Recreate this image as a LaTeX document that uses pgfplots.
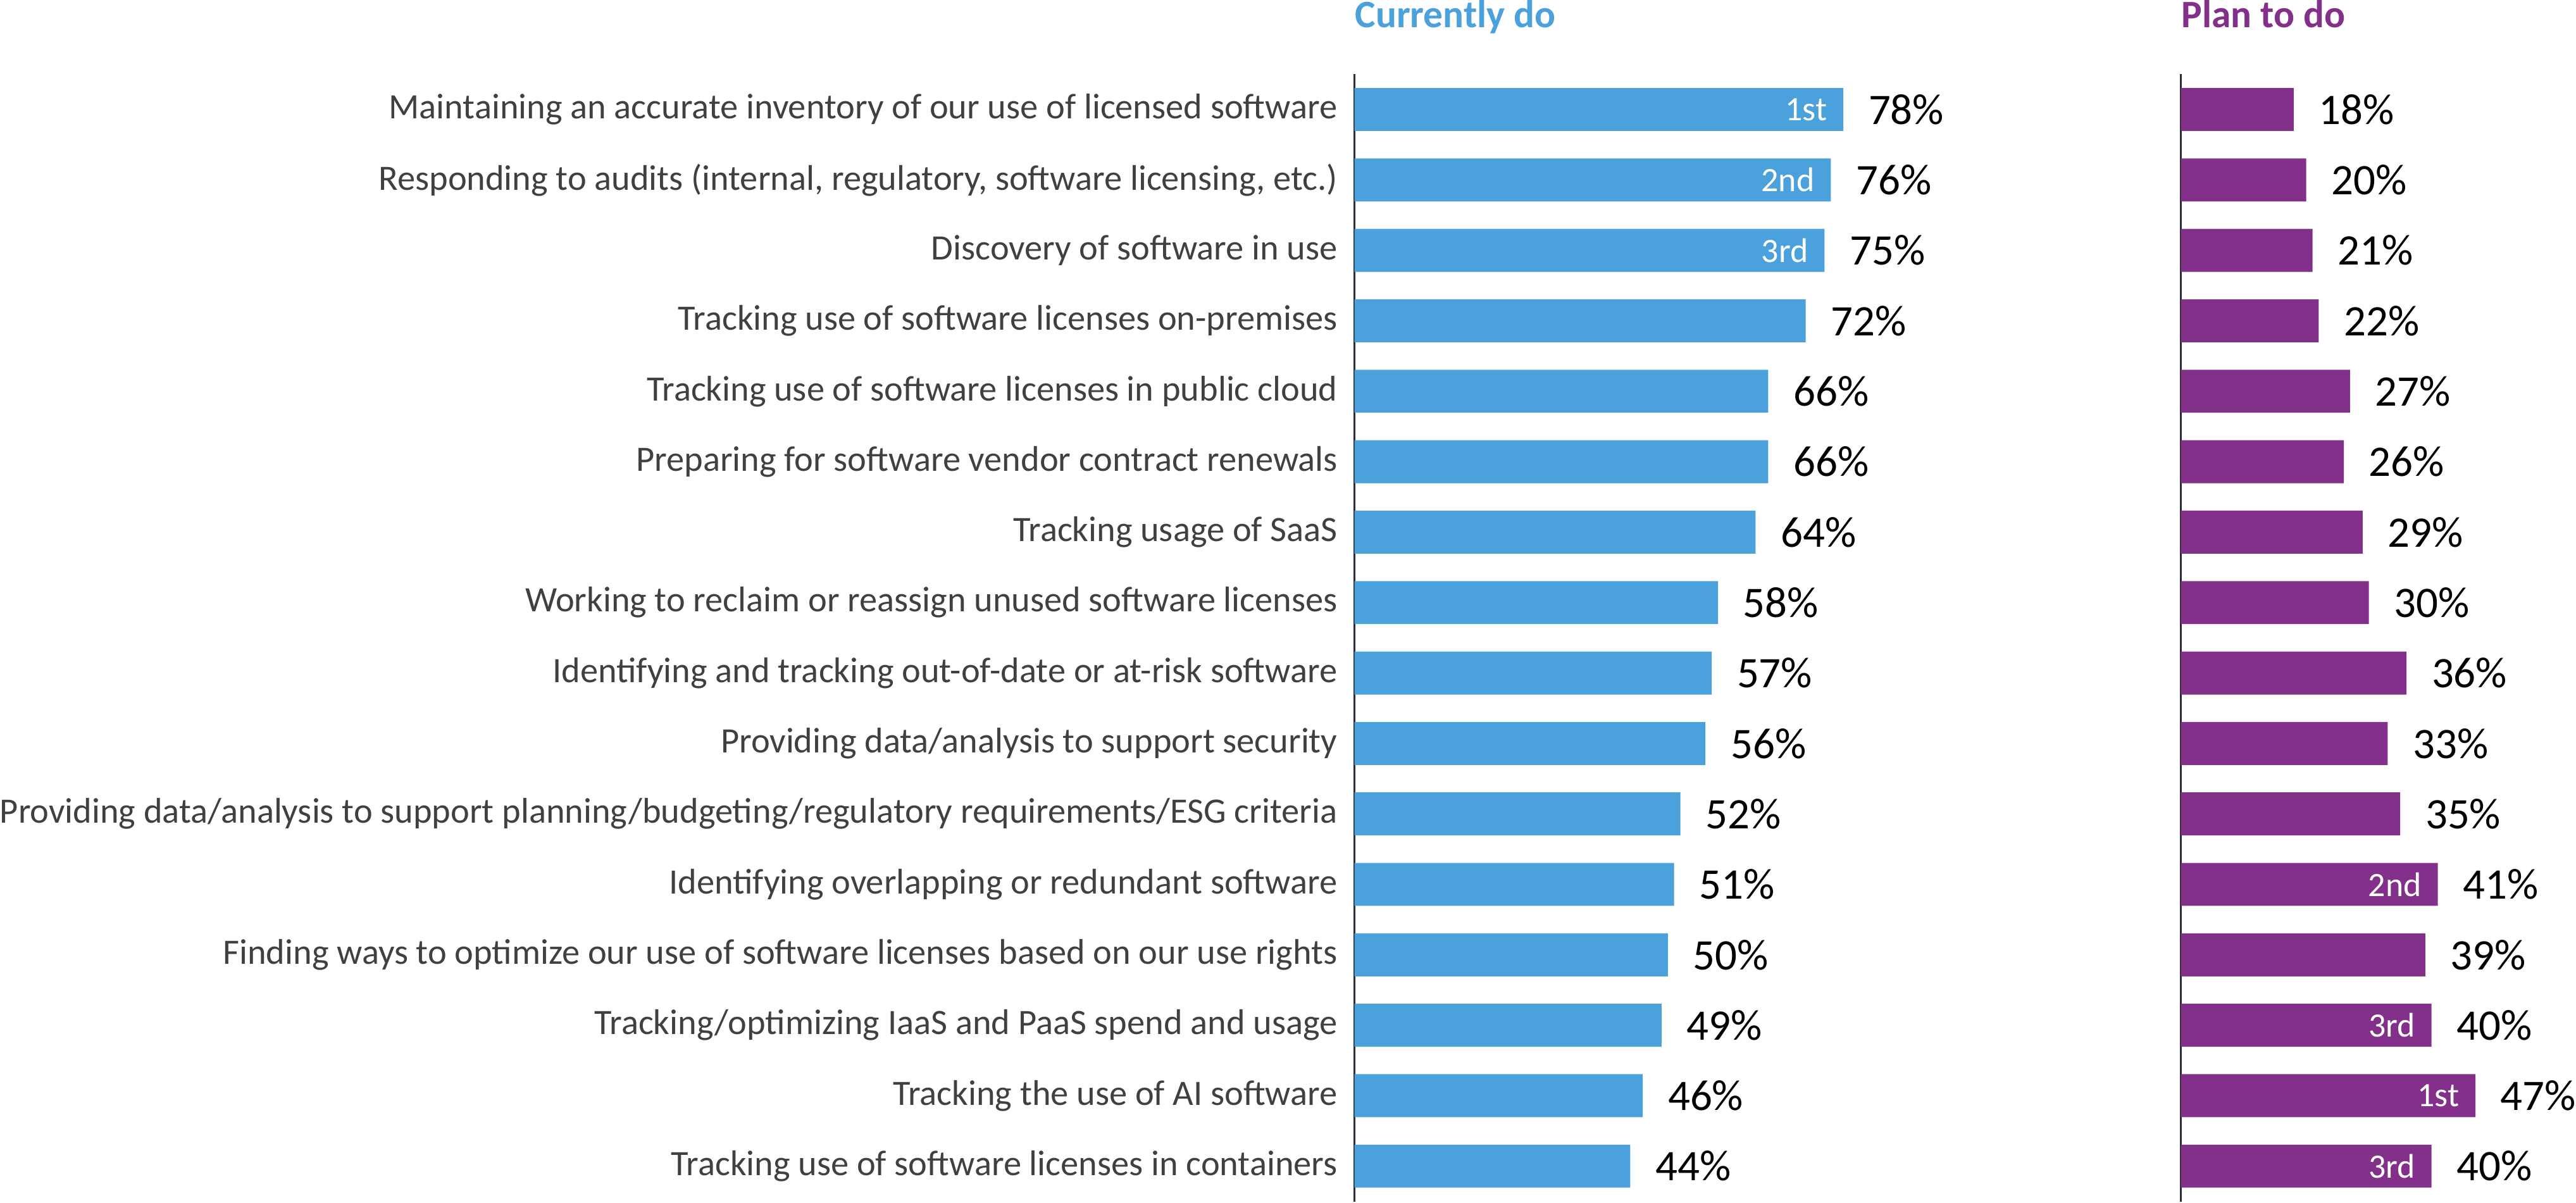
\documentclass[border=0pt]{standalone}
\usepackage{fontspec}
\setmainfont{Carlito}
\usepackage{pgfplots}
\usepackage{pgfplotstable}
\pgfplotsset{compat=1.18}
\definecolor{cblue}{HTML}{4AA1DB}
\definecolor{cpurple}{HTML}{82308A}
\definecolor{labgray}{HTML}{404040}
\definecolor{axgray}{HTML}{2B2B3A}

\pgfplotstableread{
idx cur plan
0 78 18
1 76 20
2 75 21
3 72 22
4 66 27
5 66 26
6 64 29
7 58 30
8 57 36
9 56 33
10 52 35
11 51 41
12 50 39
13 49 40
14 46 47
15 44 40
}\datatable

\pgfplotsset{
  panel/.style={
    scale only axis,
    height=356.9pt,
    y dir=reverse,
    ymin=-0.499, ymax=15.507,
    xmin=0,
    axis x line=none,
    axis y line=left,
    axis line style={-, axgray, line width=0.6pt},
    major tick length=0pt,
    ytick={0,...,15},
    clip=false,
    anchor=north west,
    title style={at={(0,1)}, anchor=base west, yshift=8.9pt, inner sep=0pt,
      font=\fontsize{12.3}{14}\selectfont\bfseries},
  },
  valbar/.style={
    xbar, draw=none, bar width=0.61, bar shift=0pt,
    point meta=explicit symbolic,
    nodes near coords={\pgfplotspointmeta\%},
    nodes near coords align=horizontal,
    every node near coord/.append style={anchor=west, xshift=7.8pt, inner sep=0pt,
      text=black, font=\fontsize{13.8}{16}\selectfont},
  },
  rankbar/.style={
    xbar, draw=none, fill=none, bar width=0.61, bar shift=0pt,
    point meta=explicit symbolic,
    nodes near coords={\pgfplotspointmeta},
    nodes near coords align=horizontal,
    every node near coord/.append style={anchor=east, xshift=-5pt, inner sep=0pt,
      text=white, font=\fontsize{10.8}{12}\selectfont},
  },
}

\begin{document}
\begin{tikzpicture}
\begin{axis}[panel,
  at={(0pt,0pt)},
  width=198.4pt,
  xmax=100,
  title={\textcolor{cblue}{Currently do}},
  yticklabels={
    {Maintaining an accurate inventory of our use of licensed software},
    {Responding to audits (internal, regulatory, software licensing, etc.)},
    {Discovery of software in use},
    {Tracking use of software licenses on-premises},
    {Tracking use of software licenses in public cloud},
    {Preparing for software vendor contract renewals},
    {Tracking usage of SaaS},
    {Working to reclaim or reassign unused software licenses},
    {Identifying and tracking out-of-date or at-risk software},
    {Providing data/analysis to support security},
    {Providing data/analysis to support planning/budgeting/regulatory requirements/ESG criteria},
    {Identifying overlapping or redundant software},
    {Finding ways to optimize our use of software licenses based on our use rights},
    {Tracking/optimizing IaaS and PaaS spend and usage},
    {Tracking the use of AI software},
    {Tracking use of software licenses in containers}
  },
  yticklabel style={anchor=east, inner sep=0pt, xshift=-5.2pt, text=labgray,
    font=\fontsize{11.3}{13}\selectfont},
]
\addplot[valbar, fill=cblue] table[x=cur, y=idx, meta=cur] {\datatable};
\addplot[rankbar] coordinates {(78,0) [1st] (76,1) [2nd] (75,2) [3rd]};
\end{axis}

\begin{axis}[panel,
  at={(261.6pt,0pt)},
  width=124.2pt,
  xmax=62.6,
  title={\textcolor{cpurple}{Plan to do}},
  yticklabels={},
]
\addplot[valbar, fill=cpurple] table[x=plan, y=idx, meta=plan] {\datatable};
\addplot[rankbar] coordinates {(41,11) [2nd] (40,13) [3rd] (47,14) [1st] (40,15) [3rd]};
\end{axis}
\end{tikzpicture}
\end{document}
